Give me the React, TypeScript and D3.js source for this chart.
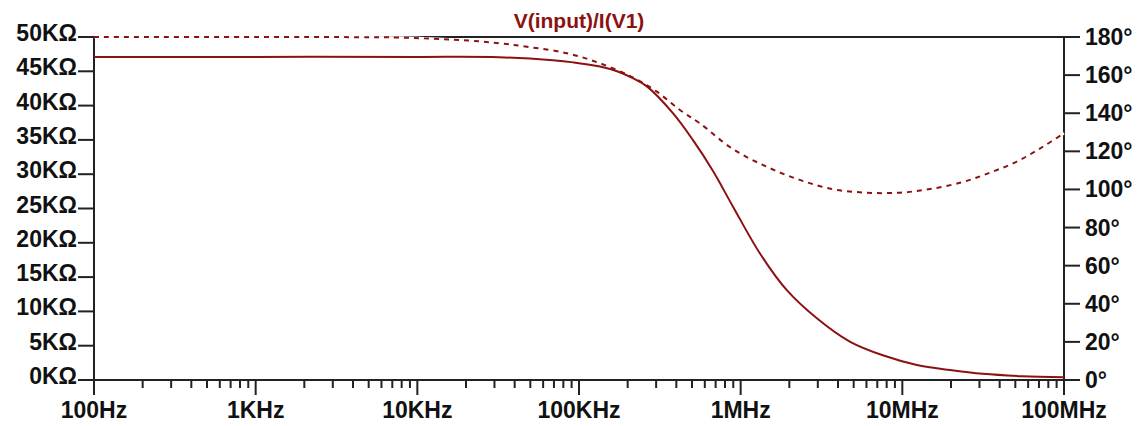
import { useRef, useEffect } from "react";
import * as d3 from "d3";

const W = 1141;
const H = 426;
const PLOT = { left: 94, right: 1064, top: 37, bottom: 380 };
const CURVE = "#8c1111";
const FONT = "'Liberation Sans', Arial, sans-serif";

// magnitude |V(input)/I(V1)| in ohms
const magFreq = [100, 1e3, 1e4, 3.2e4, 6.9e4, 9.2e4, 1.35e5, 1.72e5, 2.15e5, 2.63e5, 3.81e5, 5.06e5, 6.73e5, 8.95e5, 1.32e6, 1.93e6, 2.96e6, 4.73e6, 7.57e6, 1.23e7, 1.97e7, 3.15e7, 5.5e7, 1e8];
const magOhm = [47100, 47100, 47100, 47050, 46600, 46300, 45700, 45000, 44000, 42800, 38900, 35000, 30500, 25300, 18400, 13100, 9000, 5600, 3600, 2200, 1460, 900, 560, 400];

// phase in degrees
const phFreq = [100, 1e3, 4.4e3, 7.8e3, 2.1e4, 3.24e4, 4.76e4, 8.42e4, 1.35e5, 2.15e5, 3.03e5, 4.21e5, 5.59e5, 8.95e5, 1.45e6, 2.32e6, 3.72e6, 6.03e6, 9.66e6, 1.48e7, 2.37e7, 3.48e7, 5.1e7, 7.4e7, 1e8];
const phDeg = [180, 180, 179.9, 179.7, 178.1, 176.7, 174.9, 171.5, 166.2, 158.8, 151.3, 141.7, 134.7, 121.2, 111.9, 105.0, 100.1, 98.3, 98.3, 100.2, 103.9, 108.8, 114.6, 122.4, 129.5];

const xMajor = [100, 1e3, 1e4, 1e5, 1e6, 1e7, 1e8];
const xLabels = ["100Hz", "1KHz", "10KHz", "100KHz", "1MHz", "10MHz", "100MHz"];
const leftTicks = [0, 5000, 10000, 15000, 20000, 25000, 30000, 35000, 40000, 45000, 50000];
const rightTicks = [0, 20, 40, 60, 80, 100, 120, 140, 160, 180];

export default function App() {
  const svgRef = useRef<SVGSVGElement>(null);

  useEffect(() => {
    if (!svgRef.current) return;
    const svg = d3.select(svgRef.current);
    svg.selectAll("*").remove();

    const x = d3.scaleLog().domain([100, 1e8]).range([PLOT.left, PLOT.right]);
    const yMag = d3.scaleLinear().domain([0, 50000]).range([PLOT.bottom, PLOT.top]);
    const yPh = d3.scaleLinear().domain([0, 180]).range([PLOT.bottom, PLOT.top]);

    svg.append("rect").attr("width", W).attr("height", H).attr("fill", "white");

    // Title
    svg.append("text")
      .attr("x", (PLOT.left + PLOT.right) / 2).attr("y", 28)
      .attr("text-anchor", "middle")
      .attr("fill", CURVE)
      .style("font", `bold 21px ${FONT}`)
      .text("V(input)/I(V1)");

    const axisColor = "#222";

    // Top border
    svg.append("line")
      .attr("x1", PLOT.left).attr("x2", PLOT.right)
      .attr("y1", PLOT.top).attr("y2", PLOT.top)
      .attr("stroke", axisColor).attr("stroke-width", 2);

    // Left axis
    svg.append("line")
      .attr("x1", PLOT.left).attr("x2", PLOT.left)
      .attr("y1", PLOT.top).attr("y2", PLOT.bottom)
      .attr("stroke", axisColor).attr("stroke-width", 2);
    leftTicks.forEach((v) => {
      const y = yMag(v);
      svg.append("line")
        .attr("x1", PLOT.left - 16).attr("x2", PLOT.left)
        .attr("y1", y).attr("y2", y)
        .attr("stroke", axisColor).attr("stroke-width", 2);
      svg.append("text")
        .attr("x", PLOT.left - 17).attr("y", y + 4)
        .attr("text-anchor", "end")
        .attr("fill", "#111")
        .style("font", `bold 23px ${FONT}`)
        .text(`${v / 1000}KΩ`);
    });

    // Right axis
    svg.append("line")
      .attr("x1", PLOT.right).attr("x2", PLOT.right)
      .attr("y1", PLOT.top).attr("y2", PLOT.bottom)
      .attr("stroke", axisColor).attr("stroke-width", 2);
    rightTicks.forEach((v) => {
      const y = yPh(v);
      svg.append("line")
        .attr("x1", PLOT.right).attr("x2", PLOT.right + 16)
        .attr("y1", y).attr("y2", y)
        .attr("stroke", axisColor).attr("stroke-width", 2);
      svg.append("text")
        .attr("x", PLOT.right + 21).attr("y", y + 8)
        .attr("text-anchor", "start")
        .attr("fill", "#111")
        .style("font", `bold 23px ${FONT}`)
        .text(`${v}°`);
    });

    // Bottom axis with log ticks
    svg.append("line")
      .attr("x1", PLOT.left).attr("x2", PLOT.right)
      .attr("y1", PLOT.bottom).attr("y2", PLOT.bottom)
      .attr("stroke", axisColor).attr("stroke-width", 2);
    xMajor.forEach((f, i) => {
      const px = x(f);
      svg.append("line")
        .attr("x1", px).attr("x2", px)
        .attr("y1", PLOT.bottom).attr("y2", PLOT.bottom + 15)
        .attr("stroke", axisColor).attr("stroke-width", 2);
      svg.append("text")
        .attr("x", px).attr("y", PLOT.bottom + 38)
        .attr("text-anchor", "middle")
        .attr("fill", "#111")
        .style("font", `bold 23px ${FONT}`)
        .text(xLabels[i]);
      if (i < xMajor.length - 1) {
        for (let m = 2; m <= 9; m++) {
          const mx = x(f * m);
          svg.append("line")
            .attr("x1", mx).attr("x2", mx)
            .attr("y1", PLOT.bottom).attr("y2", PLOT.bottom + 8)
            .attr("stroke", axisColor).attr("stroke-width", 2);
        }
      }
    });

    // Phase (dashed, gaps painted white like the original)
    const phLine = d3.line<number>()
      .x((_, i) => x(phFreq[i]))
      .y((d) => yPh(d))
      .curve(d3.curveCatmullRom.alpha(0.5));
    svg.append("path")
      .datum(phDeg)
      .attr("fill", "none")
      .attr("stroke", "white")
      .attr("stroke-width", 2.5)
      .attr("d", phLine);
    svg.append("path")
      .datum(phDeg)
      .attr("fill", "none")
      .attr("stroke", CURVE)
      .attr("stroke-width", 2)
      .attr("stroke-dasharray", "5,5")
      .attr("d", phLine);

    // Magnitude (solid)
    const magLine = d3.line<number>()
      .x((_, i) => x(magFreq[i]))
      .y((d) => yMag(d))
      .curve(d3.curveCatmullRom.alpha(0.5));
    svg.append("path")
      .datum(magOhm)
      .attr("fill", "none")
      .attr("stroke", CURVE)
      .attr("stroke-width", 2)
      .attr("d", magLine);
  }, []);

  return (
    <svg
      ref={svgRef}
      width={W}
      height={H}
      style={{ position: "fixed", left: 0, top: 0 }}
    />
  );
}
